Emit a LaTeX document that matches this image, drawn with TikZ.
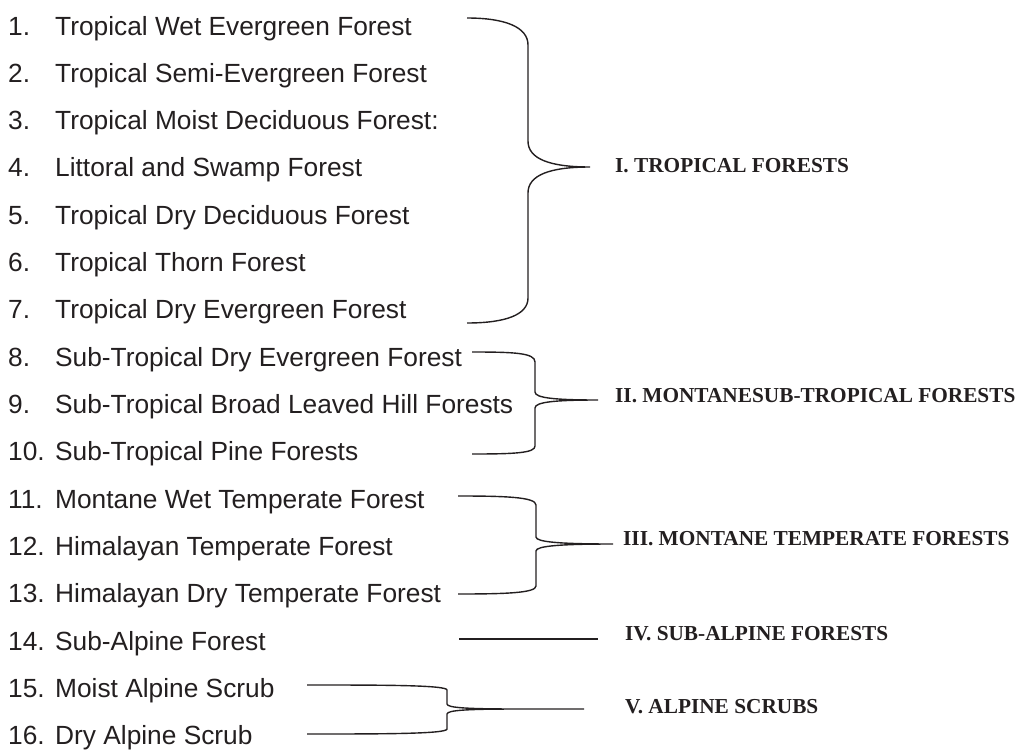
\documentclass[tikz,border=0pt]{standalone}
\usepackage{fontspec}
\setmainfont{Liberation Sans}
\newfontfamily\labelfont{Liberation Serif}
\definecolor{ink}{HTML}{231F20}
\tikzset{
  itemtxt/.style={anchor=base west, inner sep=0pt, font=\fontsize{26.3}{30}\selectfont, text=ink},
  grouptxt/.style={anchor=base west, inner sep=0pt, font=\labelfont\bfseries\fontsize{21.3}{24}\selectfont, text=ink},
  bracket/.style={draw=ink, line width=1.4pt},
}
\begin{document}
\begin{tikzpicture}[x=1pt,y=-1pt]
\useasboundingbox (0,0) rectangle (1021,755);
% list items
\foreach \i/\t in {1/Tropical Wet Evergreen Forest,
  2/Tropical Semi-Evergreen Forest,
  3/Tropical Moist Deciduous Forest:,
  4/Littoral and Swamp Forest,
  5/Tropical Dry Deciduous Forest,
  6/Tropical Thorn Forest,
  7/Tropical Dry Evergreen Forest,
  8/Sub-Tropical Dry Evergreen Forest,
  9/Sub-Tropical Broad Leaved Hill Forests,
  10/Sub-Tropical Pine Forests,
  11/Montane Wet Temperate Forest,
  12/Himalayan Temperate Forest,
  13/Himalayan Dry Temperate Forest,
  14/Sub-Alpine Forest,
  15/Moist Alpine Scrub,
  16/Dry Alpine Scrub}{
  \node[itemtxt] (n\i) at (8,{35+(\i-1)*47.33}) {\i.};
  \node[itemtxt] (i\i) at (55,{35+(\i-1)*47.33}) {\t};
}
% group labels
\node[grouptxt] (gI)   at (615,172) {I. TROPICAL FORESTS};
\node[grouptxt] (gII)  at (615,402) {II. MONTANESUB-TROPICAL FORESTS};
\node[grouptxt] (gIII) at (623,545) {III. MONTANE TEMPERATE FORESTS};
\node[grouptxt] (gIV)  at (625,640) {IV. SUB-ALPINE FORESTS};
\node[grouptxt] (gV)   at (625,713) {V. ALPINE SCRUBS};
% bracket end points
\coordinate (aI) at (467,18);   \coordinate (zI) at (467,323);  \coordinate (tI) at (590,167);
\coordinate (aII) at (472,352); \coordinate (zII) at (472,454); \coordinate (tII) at (598,400);
\coordinate (aIII) at (458,496);\coordinate (zIII) at (458,594);\coordinate (tIII) at (613,544);
\coordinate (aIV) at (459,639); \coordinate (tIV) at (598,639);
\coordinate (aV) at (307,685);  \coordinate (zV) at (307,734);  \coordinate (tV) at (584,709);
% I
\draw[bracket] (aI) .. controls (505,18) and (528,27) .. (528,45) -- (528,141)
  .. controls (528,159) and (550,167) .. (tI)
  .. controls (550,167) and (528,175) .. (528,193) -- (528,298)
  .. controls (528,315) and (505,323) .. (zI);
% II
\draw[bracket] (aII) .. controls (515,352) and (535,353) .. (535,362) -- (535,392)
  .. controls (535,398) and (555,400) .. (tII)
  .. controls (555,400) and (535,402) .. (535,408) -- (535,446)
  .. controls (535,453) and (515,454) .. (zII);
% III
\draw[bracket] (aIII) .. controls (505,496) and (536,497) .. (536,505) -- (536,537)
  .. controls (536,542) and (560,544) .. (tIII)
  .. controls (560,544) and (536,546) .. (536,551) -- (536,586)
  .. controls (536,593) and (505,594) .. (zIII);
% IV
\draw[bracket, line width=1.8pt] (aIV) -- (tIV);
% V
\draw[bracket] (aV) .. controls (380,685) and (447,685) .. (447,690) -- (447,704)
  .. controls (447,708) and (470,709) .. (520,709) -- (tV)
  (tV) -- (520,709) .. controls (470,709) and (447,710) .. (447,714) -- (447,729)
  .. controls (447,734) and (380,734) .. (zV);
\end{tikzpicture}
\end{document}
